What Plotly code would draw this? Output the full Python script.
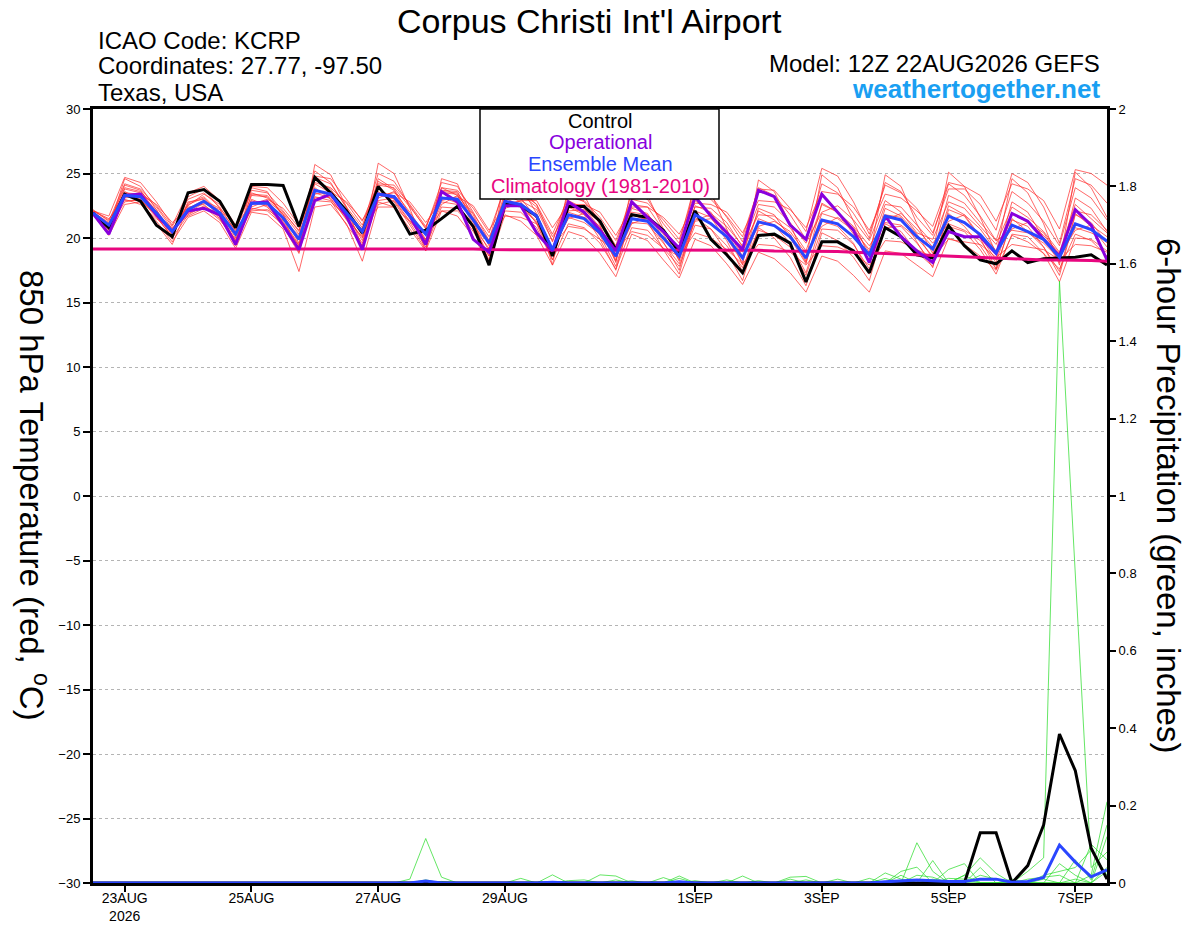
import plotly.graph_objects as go
import pandas as pd

# ---- data ----
times = pd.date_range("2026-08-22 12:00", periods=65, freq="6h")

tick_dates = ["2026-08-23", "2026-08-25", "2026-08-27", "2026-08-29",
              "2026-09-01", "2026-09-03", "2026-09-05", "2026-09-07"]
tick_labels = ["23AUG<br>2026", "25AUG", "27AUG", "29AUG",
               "1SEP", "3SEP", "5SEP", "7SEP"]

# 850 hPa temperature, deg C
control_t = [21.95, 20.8, 23.4, 22.85, 21.0, 20.1, 23.5, 23.75, 22.85, 20.8, 24.15, 24.15, 24.07,
             20.9, 24.7, 23.5, 22.1, 20.4, 24.0, 22.5, 20.3, 20.6, 21.5, 22.45, 20.9, 17.9,
             22.6, 22.5, 21.7, 18.6, 22.45, 22.45, 21.3, 19.1, 21.8, 21.6, 20.6, 18.9, 22.1,
             19.9, 18.7, 17.3, 20.2, 20.3, 19.6, 16.6, 19.7, 19.7, 19.0, 17.3, 20.8, 20.1,
             18.7, 18.45, 20.95, 19.4, 18.3, 18.0, 19.0, 18.1, 18.4, 18.45, 18.5, 18.7, 17.9]

operational_t = [21.9, 20.3, 23.3, 23.4, 21.8, 20.5, 22.1, 22.3, 21.8, 19.5, 22.7, 22.8, 21.0,
                 19.1, 22.9, 23.4, 21.7, 19.1, 23.4, 23.2, 21.7, 19.5, 23.6, 22.8, 19.9, 18.9,
                 22.5, 22.5, 20.4, 19.0, 22.8, 22.0, 20.6, 19.0, 22.8, 21.6, 20.5, 19.2, 23.2,
                 21.7, 20.4, 19.1, 23.7, 23.2, 21.0, 19.9, 23.4, 22.0, 20.6, 18.1, 21.7, 20.1,
                 19.0, 18.1, 20.5, 20.1, 20.1, 18.8, 21.9, 21.3, 19.9, 18.6, 22.2, 21.0, 18.3]

ens_mean_t = [21.95, 21.0, 23.3, 23.2, 21.95, 20.5, 22.2, 22.85, 21.95, 20.3, 22.7, 22.7, 21.55,
              19.9, 23.7, 23.4, 21.95, 20.5, 23.4, 23.2, 21.7, 20.3, 23.1, 23.0, 21.4, 19.6,
              22.85, 22.6, 21.7, 19.1, 21.8, 21.5, 20.4, 18.6, 21.5, 21.3, 20.0, 18.6, 21.8,
              21.1, 20.1, 18.45, 21.25, 20.96, 20.1, 18.45, 21.4, 21.1, 20.1, 18.7, 21.7, 21.4,
              20.1, 19.15, 21.7, 21.2, 20.26, 18.84, 21.0, 20.5, 19.9, 18.5, 21.1, 20.65, 19.75]

climatology_t = [19.15, 19.15, 19.15, 19.15, 19.15, 19.15, 19.2, 19.2, 19.2, 19.2, 19.2, 19.2, 19.15,
                 19.15, 19.15, 19.15, 19.15, 19.15, 19.2, 19.2, 19.2, 19.2, 19.2, 19.2, 19.15, 19.1,
                 19.1, 19.05, 19.05, 19.05, 19.05, 19.05, 19.05, 19.05, 19.05, 19.05, 19.1, 19.1, 19.1,
                 19.1, 19.1, 19.1, 19.05, 19.0, 19.0, 19.0, 18.95, 18.95, 18.9, 18.85, 18.8, 18.7,
                 18.65, 18.6, 18.55, 18.5, 18.45, 18.4, 18.35, 18.35, 18.3, 18.3, 18.3, 18.25, 18.2]

members_t = [
    [22.2, 21.3, 24.2, 23.8, 22.5, 20.9, 23.0, 23.5, 22.4, 20.5, 23.7, 23.5, 22.1,
     20.5, 25.2, 24.3, 22.3, 20.3, 24.6, 23.8, 21.8, 19.8, 23.9, 23.3, 21.0, 18.6,
     23.4, 22.8, 21.1, 18.3, 22.4, 21.8, 19.9, 17.5, 21.9, 21.3, 19.1, 17.2, 21.6,
     20.7, 18.9, 16.7, 20.8, 20.0, 18.5, 16.3, 20.4, 19.8, 18.5, 16.7, 21.1, 20.5,
     18.9, 17.8, 21.9, 20.9, 19.4, 17.6, 21.5, 20.5, 19.3, 17.4, 21.9, 20.9, 19.3],
    [21.9, 20.6, 23.8, 23.5, 22.0, 20.3, 22.6, 23.1, 21.8, 19.8, 23.3, 23.2, 21.8,
     19.6, 24.7, 24.2, 22.4, 20.8, 25.0, 24.4, 22.5, 20.7, 24.3, 24.0, 22.0, 19.8,
     24.3, 23.8, 22.6, 19.7, 23.4, 22.8, 21.4, 19.4, 23.5, 23.0, 21.1, 19.6, 24.2,
     23.3, 21.6, 19.7, 23.9, 23.3, 21.8, 19.9, 24.2, 23.5, 21.9, 20.0, 24.3, 23.6,
     21.6, 20.2, 24.2, 23.3, 21.7, 19.8, 23.6, 22.7, 21.3, 19.4, 23.9, 23.1, 21.4],
    [22.0, 20.8, 24.6, 24.0, 22.2, 19.9, 23.2, 23.8, 22.3, 19.4, 23.9, 23.6, 21.6,
     18.9, 25.7, 24.9, 22.4, 19.3, 25.8, 25.0, 22.3, 19.0, 24.6, 24.2, 21.4, 18.1,
     24.7, 24.0, 21.9, 17.9, 24.0, 23.3, 21.0, 18.1, 24.0, 23.3, 20.7, 18.2, 24.6,
     23.5, 20.7, 17.9, 24.5, 23.6, 21.1, 18.2, 24.9, 23.9, 21.3, 18.5, 24.9, 24.0,
     21.1, 18.8, 25.1, 24.0, 21.6, 18.8, 24.6, 23.5, 21.1, 17.9, 25.1, 23.9, 21.6],
    [22.1, 21.5, 22.9, 22.9, 21.8, 20.8, 21.7, 22.3, 21.7, 20.7, 22.1, 22.2, 21.4,
     20.2, 22.9, 22.8, 21.7, 20.7, 22.4, 22.4, 21.3, 20.4, 22.1, 22.1, 20.9, 19.6,
     21.7, 21.6, 21.1, 19.3, 20.9, 20.7, 19.9, 18.9, 20.5, 20.2, 19.2, 18.6, 20.4,
     20.0, 19.1, 18.0, 19.5, 19.4, 18.9, 17.9, 19.4, 19.3, 18.8, 17.9, 19.8, 19.7,
     19.1, 18.5, 19.9, 19.7, 19.5, 18.5, 19.5, 19.3, 19.1, 18.3, 19.5, 19.4, 18.9],
    [21.8, 20.9, 23.6, 23.0, 21.6, 20.1, 22.7, 23.2, 22.0, 20.0, 23.0, 22.5, 21.2,
     19.4, 24.2, 23.5, 21.6, 20.0, 23.9, 23.0, 21.3, 19.8, 23.6, 23.5, 21.9, 20.1,
     22.4, 22.9, 22.2, 19.8, 22.9, 22.3, 20.8, 18.3, 22.6, 22.4, 20.6, 19.1, 22.9,
     21.9, 20.9, 19.4, 22.6, 22.4, 21.2, 19.6, 22.0, 22.5, 21.4, 19.8, 22.9, 22.0,
     20.4, 19.9, 22.8, 22.3, 20.9, 19.5, 22.4, 21.6, 20.5, 18.9, 22.6, 21.5, 20.4],
    [22.0, 21.2, 23.0, 22.6, 21.5, 20.6, 21.9, 22.4, 21.4, 19.9, 22.3, 22.1, 21.0,
     19.4, 23.2, 22.9, 21.0, 19.4, 22.8, 22.4, 20.7, 19.0, 22.1, 21.7, 20.1, 18.1,
     21.8, 21.3, 20.2, 17.9, 20.5, 20.1, 18.8, 17.0, 20.3, 19.8, 18.3, 16.9, 19.9,
     19.4, 18.0, 16.4, 18.9, 18.4, 17.3, 15.8, 18.6, 18.2, 17.1, 15.8, 19.0, 18.8,
     17.9, 17.0, 20.0, 19.5, 18.6, 17.5, 20.2, 19.7, 18.8, 17.6, 20.3, 19.8, 18.6],
    [22.1, 21.7, 24.7, 24.3, 22.8, 21.0, 23.5, 24.0, 22.9, 21.0, 24.0, 23.9, 22.7,
     21.0, 24.8, 24.6, 23.0, 21.3, 24.2, 24.1, 22.6, 20.9, 23.5, 23.4, 21.6, 19.8,
     23.1, 22.5, 21.3, 19.0, 21.6, 21.2, 20.3, 18.7, 21.2, 21.1, 19.6, 18.0, 21.3,
     21.5, 20.4, 18.9, 22.1, 21.4, 20.3, 18.1, 21.9, 21.5, 20.6, 19.1, 22.6, 22.4,
     21.0, 19.6, 21.1, 20.6, 19.8, 18.1, 21.9, 21.2, 20.2, 18.8, 22.1, 21.8, 20.6],
    [21.9, 20.5, 23.1, 23.3, 22.2, 20.4, 22.0, 22.7, 22.2, 20.6, 22.4, 22.9, 21.9,
     20.3, 23.9, 23.0, 21.5, 20.1, 23.1, 23.6, 22.0, 20.2, 22.8, 22.6, 20.8, 19.2,
     23.6, 23.4, 22.4, 20.1, 22.1, 22.2, 21.2, 19.3, 22.0, 21.8, 20.5, 19.2, 22.4,
     22.3, 21.2, 19.3, 21.8, 21.7, 20.8, 19.0, 22.6, 22.0, 20.9, 19.4, 21.2, 21.0,
     20.0, 18.6, 23.3, 22.7, 21.2, 19.8, 20.6, 20.4, 19.6, 18.4, 20.8, 20.4, 19.8],
    [21.8, 20.2, 22.6, 22.8, 21.3, 19.7, 21.6, 22.1, 21.2, 19.2, 22.0, 21.8, 20.7,
     17.4, 22.4, 22.6, 21.1, 18.2, 22.6, 22.9, 21.2, 19.3, 22.4, 22.3, 20.5, 18.6,
     22.1, 22.0, 20.8, 18.3, 21.1, 20.8, 19.6, 17.6, 20.8, 20.6, 19.2, 17.8, 21.0,
     20.7, 19.4, 17.7, 20.6, 20.2, 19.3, 17.1, 20.7, 20.6, 19.5, 17.6, 20.8, 20.9,
     19.6, 18.0, 20.9, 20.5, 19.1, 17.2, 20.3, 20.1, 18.8, 16.6, 20.0, 19.9, 19.0],
    [22.0, 21.1, 23.9, 23.6, 22.4, 20.7, 22.5, 23.4, 22.6, 20.9, 23.5, 23.1, 22.0,
     20.6, 24.3, 23.9, 22.7, 21.0, 24.1, 23.9, 22.4, 20.8, 23.9, 23.7, 22.3, 20.4,
     23.9, 23.5, 22.6, 20.3, 23.1, 22.9, 21.6, 19.8, 23.0, 22.7, 21.4, 19.9, 23.6,
     23.0, 21.7, 20.1, 23.8, 23.7, 22.3, 20.5, 25.4, 24.8, 22.8, 20.3, 24.1, 23.5,
     22.3, 20.4, 23.8, 23.8, 22.6, 20.6, 25.0, 24.3, 22.4, 19.6, 24.6, 24.1, 22.7],
    [21.9, 20.4, 23.4, 22.9, 21.1, 19.5, 22.4, 22.6, 21.5, 19.6, 22.9, 22.4, 20.9,
     18.8, 23.5, 23.1, 21.4, 19.6, 23.6, 22.8, 21.0, 19.1, 23.2, 22.7, 20.7, 18.3,
     22.9, 22.4, 21.2, 18.6, 22.0, 21.6, 20.2, 17.8, 21.8, 21.4, 19.7, 17.5, 22.1,
     21.6, 19.8, 17.4, 21.5, 21.0, 19.6, 17.3, 21.3, 20.9, 19.6, 17.2, 21.8, 21.6,
     19.7, 17.7, 22.2, 21.7, 20.0, 17.6, 21.4, 20.9, 19.3, 17.1, 21.8, 21.2, 19.6],
    [22.1, 21.4, 23.5, 23.4, 22.6, 21.2, 22.3, 22.9, 22.3, 21.0, 22.6, 23.0, 22.3,
     20.8, 23.4, 23.6, 22.8, 21.4, 23.3, 23.5, 22.8, 21.2, 22.9, 23.2, 22.5, 20.6,
     22.6, 22.9, 22.9, 20.8, 22.6, 22.6, 22.0, 20.2, 22.4, 22.4, 21.6, 20.3, 22.7,
     22.6, 22.0, 20.4, 22.9, 22.8, 22.2, 20.8, 23.6, 23.4, 22.4, 20.6, 23.4, 23.1,
     22.1, 20.9, 24.3, 24.0, 23.3, 21.3, 24.2, 23.8, 22.9, 20.7, 25.3, 25.0, 24.1],
    [21.9, 20.7, 22.8, 23.0, 21.7, 20.0, 21.8, 22.5, 21.8, 19.8, 22.2, 22.6, 21.3,
     19.5, 23.1, 23.2, 22.0, 20.2, 22.9, 23.1, 21.8, 19.9, 22.6, 23.3, 21.8, 19.4,
     22.3, 22.7, 21.8, 19.2, 21.5, 21.9, 20.9, 18.5, 21.1, 21.6, 20.3, 18.3, 21.4,
     21.8, 20.6, 18.6, 20.9, 21.3, 20.5, 18.8, 20.9, 21.6, 20.8, 18.9, 21.4, 21.9,
     20.7, 19.3, 21.3, 21.8, 20.7, 19.0, 20.7, 21.2, 20.4, 18.6, 20.6, 21.0, 20.1],
    [22.0, 21.0, 24.1, 23.7, 22.0, 20.2, 22.8, 23.0, 21.6, 19.6, 23.4, 23.3, 21.8,
     19.9, 24.5, 23.8, 21.9, 19.8, 24.4, 23.7, 21.5, 19.6, 23.7, 23.6, 21.2, 19.0,
     23.1, 23.1, 21.5, 18.8, 22.5, 21.9, 20.5, 18.2, 22.3, 21.9, 20.0, 18.4, 22.5,
     22.0, 20.0, 18.1, 22.3, 21.8, 20.0, 18.0, 22.7, 22.0, 20.3, 18.2, 22.3, 21.7,
     20.3, 18.4, 22.5, 21.8, 20.1, 18.3, 22.8, 22.0, 20.0, 18.1, 23.1, 22.3, 20.5],
]

# 6-hour precipitation, inches
control_p = [0, 0, 0, 0, 0, 0, 0, 0, 0, 0, 0, 0, 0,
             0, 0, 0, 0, 0, 0, 0, 0, 0, 0, 0, 0, 0,
             0, 0, 0, 0, 0, 0, 0, 0, 0, 0, 0, 0, 0,
             0, 0, 0, 0, 0, 0, 0, 0, 0, 0, 0, 0, 0,
             0, 0, 0, 0, 0.13, 0.13, 0, 0.045, 0.15, 0.385, 0.29, 0.09, 0.01]

ens_mean_p = [0, 0, 0, 0, 0, 0, 0, 0, 0, 0, 0, 0, 0,
              0, 0, 0, 0, 0, 0, 0, 0, 0.005, 0, 0, 0, 0,
              0, 0, 0, 0.002, 0, 0, 0, 0, 0, 0, 0, 0.003, 0,
              0, 0, 0, 0, 0, 0, 0, 0, 0, 0, 0, 0.003, 0.006,
              0.008, 0.006, 0.004, 0.004, 0.01, 0.01, 0.002, 0.004, 0.014, 0.098, 0.054, 0.016, 0.034]

members_p = [
    [0, 0, 0, 0, 0, 0, 0, 0, 0, 0, 0, 0, 0,
     0, 0, 0, 0, 0, 0, 0, 0.01, 0.115, 0.015, 0, 0, 0,
     0, 0, 0, 0, 0, 0, 0, 0, 0, 0, 0, 0, 0,
     0, 0, 0, 0, 0, 0, 0, 0, 0, 0, 0, 0, 0,
     0.104, 0.03, 0, 0, 0, 0, 0, 0, 0, 0, 0, 0.02, 0.21],
    [0, 0, 0, 0, 0, 0, 0, 0, 0, 0, 0, 0, 0,
     0, 0, 0, 0, 0, 0, 0, 0, 0, 0, 0, 0, 0,
     0, 0.012, 0, 0.021, 0, 0, 0, 0, 0, 0, 0, 0, 0,
     0, 0, 0, 0, 0, 0, 0, 0, 0, 0, 0, 0.026, 0.01,
     0, 0.058, 0, 0.02, 0.065, 0.025, 0, 0, 0, 0, 0, 0, 0.12],
    [0, 0, 0, 0, 0, 0, 0, 0, 0, 0, 0, 0, 0,
     0, 0, 0, 0, 0, 0, 0, 0, 0, 0, 0, 0, 0,
     0, 0, 0, 0, 0, 0, 0, 0, 0, 0, 0, 0, 0,
     0, 0, 0, 0, 0, 0, 0, 0, 0, 0, 0, 0, 0,
     0, 0, 0, 0, 0, 0, 0, 0.03, 0.065, 1.555, 0.79, 0.04, 0.08],
    [0, 0, 0, 0, 0, 0, 0, 0, 0, 0, 0, 0, 0,
     0, 0, 0, 0, 0, 0, 0, 0, 0.008, 0, 0, 0, 0,
     0, 0, 0, 0, 0, 0, 0.021, 0.018, 0, 0, 0, 0.018, 0,
     0, 0, 0, 0, 0, 0, 0, 0, 0.01, 0, 0, 0, 0.03,
     0.041, 0, 0.035, 0.05, 0, 0, 0, 0, 0.02, 0.03, 0.04, 0.085, 0.02],
    [0, 0, 0, 0, 0, 0, 0, 0, 0, 0, 0, 0, 0,
     0, 0, 0, 0, 0, 0, 0, 0, 0, 0, 0, 0, 0,
     0, 0, 0, 0, 0, 0, 0, 0, 0, 0, 0.014, 0, 0.006,
     0, 0, 0.018, 0, 0, 0, 0.008, 0, 0, 0, 0.012, 0, 0,
     0.02, 0.015, 0, 0, 0.04, 0, 0.01, 0, 0, 0, 0.06, 0.008, 0.15],
    [0, 0, 0, 0, 0, 0, 0, 0, 0, 0, 0, 0, 0,
     0, 0, 0, 0, 0, 0, 0, 0, 0, 0, 0, 0, 0,
     0, 0, 0, 0, 0, 0, 0, 0.008, 0, 0, 0, 0, 0,
     0, 0, 0, 0.006, 0, 0.015, 0.017, 0, 0, 0, 0, 0, 0,
     0, 0, 0.012, 0.01, 0, 0, 0, 0.01, 0.015, 0.02, 0, 0.1, 0.06],
    [0, 0, 0, 0, 0, 0, 0, 0, 0, 0, 0, 0, 0,
     0, 0, 0, 0, 0, 0, 0, 0, 0, 0, 0, 0, 0,
     0, 0, 0, 0, 0, 0, 0, 0, 0.006, 0, 0, 0.012, 0,
     0, 0.008, 0, 0, 0, 0, 0, 0, 0, 0, 0, 0.012, 0,
     0, 0, 0, 0, 0.02, 0.01, 0, 0, 0, 0.05, 0.02, 0, 0.04],
    [0, 0, 0, 0, 0, 0, 0, 0, 0, 0, 0, 0, 0,
     0, 0, 0, 0, 0, 0, 0, 0, 0, 0.004, 0, 0, 0,
     0, 0, 0, 0, 0.006, 0.008, 0, 0, 0, 0, 0, 0, 0,
     0, 0, 0, 0, 0, 0.01, 0, 0, 0, 0, 0, 0, 0.02,
     0, 0.01, 0, 0.02, 0, 0, 0, 0, 0.01, 0, 0.01, 0, 0.03],
]

# ---- styling ----
FONT = "Liberation Sans, Arial, Helvetica, sans-serif"
RED = "rgba(255,45,45,0.8)"
GREEN = "rgba(40,220,40,0.9)"
BLACK = "#000000"
PURPLE = "#8800dd"
BLUE = "#2a46ff"
MAGENTA = "#e8067f"
SITE_BLUE = "#1a9ff2"

W, H = 1200, 927
L, R, T, B = 93, 1107, 109, 883   # plot frame in pixels


def px_x(x):
    return (x - L) / (R - L)


def px_y(y):
    return (B - y) / (B - T)


fig = go.Figure()

for m in members_t:
    fig.add_trace(go.Scatter(x=times, y=m, mode="lines",
                             line=dict(color=RED, width=0.9),
                             hoverinfo="skip", showlegend=False))

for m in members_p:
    fig.add_trace(go.Scatter(x=times, y=m, mode="lines", yaxis="y2",
                             line=dict(color=GREEN, width=0.8),
                             hoverinfo="skip", showlegend=False))

fig.add_trace(go.Scatter(x=times, y=control_t, mode="lines", name="Control",
                         line=dict(color=BLACK, width=3)))
fig.add_trace(go.Scatter(x=times, y=climatology_t, mode="lines", name="Climatology",
                         line=dict(color=MAGENTA, width=3)))
fig.add_trace(go.Scatter(x=times, y=operational_t, mode="lines", name="Operational",
                         line=dict(color=PURPLE, width=3)))
fig.add_trace(go.Scatter(x=times, y=ens_mean_t, mode="lines", name="Ensemble Mean",
                         line=dict(color=BLUE, width=3)))
fig.add_trace(go.Scatter(x=times, y=control_p, mode="lines", yaxis="y2",
                         line=dict(color=BLACK, width=3), showlegend=False))
fig.add_trace(go.Scatter(x=times, y=ens_mean_p, mode="lines", yaxis="y2",
                         line=dict(color=BLUE, width=3), showlegend=False))

fig.update_layout(
    width=W, height=H,
    margin=dict(l=L, r=W - R, t=T, b=H - B),
    paper_bgcolor="white", plot_bgcolor="white",
    font=dict(family=FONT, color="black", size=13),
    showlegend=False,
    xaxis=dict(
        type="date", range=[times[0], times[-1]],
        tickvals=tick_dates, ticktext=tick_labels,
        ticks="outside", ticklen=6, tickwidth=1.5, tickcolor="black",
        tickfont=dict(size=14), ticklabelstandoff=-6,
        showline=True, linewidth=3, linecolor="black", mirror=True,
        showgrid=False, zeroline=False, automargin=False,
    ),
    yaxis=dict(
        range=[-30, 30], dtick=5,
        ticks="outside", ticklen=7, tickwidth=1.5, tickcolor="black",
        tickfont=dict(size=13),
        showline=True, linewidth=3, linecolor="black",
        showgrid=True, gridcolor="#b4b4b4", gridwidth=1, griddash="dot",
        zeroline=False, automargin=False,
    ),
    yaxis2=dict(
        overlaying="y", side="right", range=[0, 2], dtick=0.2,
        ticks="outside", ticklen=6, tickwidth=1.5, tickcolor="black",
        tickfont=dict(size=13),
        showline=True, linewidth=3, linecolor="black",
        showgrid=False, zeroline=False, automargin=False,
    ),
)

# legend box
fig.add_shape(type="rect", xref="paper", yref="paper", layer="above",
              x0=px_x(480), x1=px_x(719), y0=px_y(199), y1=px_y(109),
              line=dict(color="black", width=1.5), fillcolor="white")

legend_rows = [("Control", BLACK, 121), ("Operational", PURPLE, 142),
               ("Ensemble Mean", BLUE, 164), ("Climatology (1981-2010)", MAGENTA, 186)]
for text, color, ypx in legend_rows:
    fig.add_annotation(x=px_x(600), y=px_y(ypx), xref="paper", yref="paper",
                       text=text, showarrow=False, xanchor="center", yanchor="middle",
                       font=dict(size=20, color=color, family=FONT))

# titles and header text
fig.add_annotation(x=px_x(589), y=px_y(21), xref="paper", yref="paper",
                   text="Corpus Christi Int'l Airport", showarrow=False, borderpad=0,
                   xanchor="center", yanchor="middle", font=dict(size=34, family=FONT))
for text, ypx in [("ICAO Code: KCRP", 40), ("Coordinates: 27.77, -97.50", 66), ("Texas, USA", 92)]:
    fig.add_annotation(x=px_x(96), y=px_y(ypx), xref="paper", yref="paper",
                       text=text, showarrow=False, xanchor="left", yanchor="middle",
                       font=dict(size=24, family=FONT))
fig.add_annotation(x=px_x(1102), y=px_y(64), xref="paper", yref="paper",
                   text="Model: 12Z 22AUG2026 GEFS", showarrow=False,
                   xanchor="right", yanchor="middle", font=dict(size=24, family=FONT))
fig.add_annotation(x=px_x(1102), y=px_y(89), xref="paper", yref="paper",
                   text="<b>weathertogether.net</b>", showarrow=False,
                   xanchor="right", yanchor="middle",
                   font=dict(size=26, family=FONT, color=SITE_BLUE))

# axis titles (both read top to bottom)
fig.add_annotation(x=px_x(34), y=px_y(495), xref="paper", yref="paper",
                   text="850 hPa Temperature (red, <sup>o</sup>C)", showarrow=False,
                   textangle=90, xanchor="center", yanchor="middle",
                   font=dict(size=33, family=FONT))
fig.add_annotation(x=px_x(1168), y=px_y(495), xref="paper", yref="paper",
                   text="6-hour Precipitation (green, inches)", showarrow=False,
                   textangle=90, xanchor="center", yanchor="middle",
                   font=dict(size=33, family=FONT))

# the page body has a default 8 px margin; drop it so the figure sits at 0,0
fig.write_html("out.html", config={"displayModeBar": False},
               post_script="document.body.style.margin = '0px';")
